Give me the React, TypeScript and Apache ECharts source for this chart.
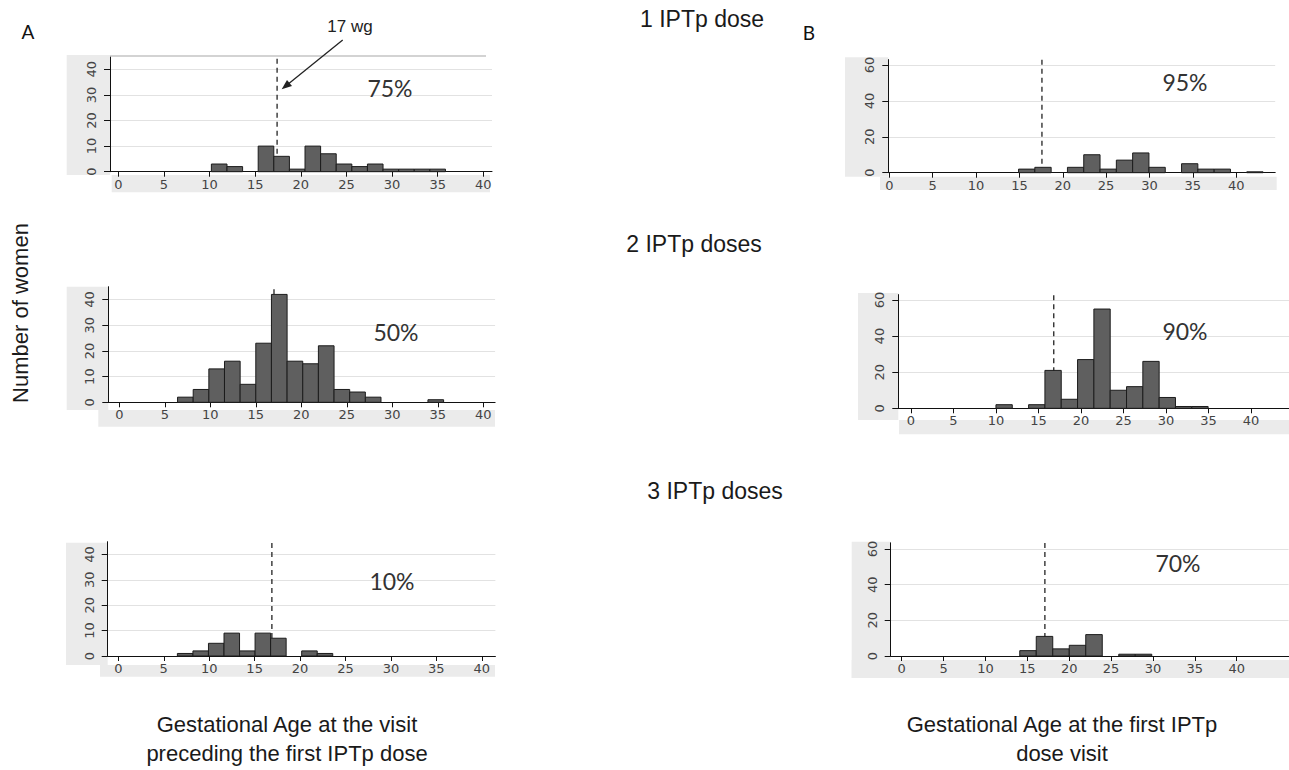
import React, { useEffect, useRef } from "react";
import * as echarts from "echarts";

// ---------- data ----------
const xTickValues = [0, 5, 10, 15, 20, 25, 30, 35, 40];
const yTicksA = [0, 10, 20, 30, 40];
const yTicksB = [0, 20, 40, 60];

// Panel A: gestational age at the visit preceding the first IPTp dose
const a1BinStart = 10.2;
const a1BinWidth = 1.71;
const a1Counts = [3, 2, 0, 10, 6, 1, 10, 7, 3, 2, 3, 1, 1, 1, 1];

const a2BinStart = 6.4;
const a2BinWidth = 1.72;
const a2Counts = [2, 5, 13, 16, 7, 23, 42, 16, 15, 22, 5, 4, 2, 0, 0, 0, 1];

const a3BinStart = 6.5;
const a3BinWidth = 1.71;
const a3Counts = [1, 2, 5, 9, 2, 9, 7, 0, 2, 1];

// Panel B: gestational age at the first IPTp dose visit
const b1BinStart = 14.9;
const b1BinWidth = 1.88;
const b1Counts = [2, 3, 0, 3, 10, 2, 7, 11, 3, 0, 5, 2, 2, 0, 0.5];

const b2BinStart = 10.0;
const b2BinWidth = 1.92;
const b2Counts = [2, 0, 2, 21, 5, 27, 55, 10, 12, 26, 6, 1, 1];

const b3BinStart = 14.1;
const b3BinWidth = 1.97;
const b3Counts = [3, 11, 4, 6, 12, 0, 1, 1];

const cutoffs = [17.4, 17.0, 16.9, 17.6, 16.8, 17.1];
const percentLabels = ["75%", "50%", "10%", "95%", "90%", "70%"];
const doseTitles = ["1 IPTp dose", "2 IPTp doses", "3 IPTp doses"];
const yAxisTitle = "Number of women";
const xTitleA = ["Gestational Age at the visit", "preceding the first IPTp dose"];
const xTitleB = ["Gestational Age at the first IPTp", "dose visit"];
const cutoffNote = "17 wg";

// ---------- layout ----------
const panels = [
  { start: a1BinStart, width: a1BinWidth, counts: a1Counts, yTicks: yTicksA, yMax: 45,
    left: 110, top: 56.5, w: 382, h: 115.2, xMin: -0.91, xMax: 40.95, px: 390, py: 88,
    bandL: [66.7, 55, 43.3, 120], bandB: [111.7, 175, 378.3, 17.3] },
  { start: a2BinStart, width: a2BinWidth, counts: a2Counts, yTicks: yTicksA, yMax: 45,
    left: 108.3, top: 286.7, w: 386.8, h: 115.6, xMin: -1.21, xMax: 41.3, px: 396, py: 332,
    bandL: [66.7, 286.7, 41.6, 123.3], bandB: [98.3, 410, 396.7, 16.7] },
  { start: a3BinStart, width: a3BinWidth, counts: a3Counts, yTicks: yTicksA, yMax: 45,
    left: 107.7, top: 541.7, w: 387.7, h: 114.3, xMin: -1.17, xMax: 41.5, px: 392, py: 581,
    bandL: [66, 542.7, 41.7, 122.3], bandB: [100, 665, 395, 11.7] },
  { start: b1BinStart, width: b1BinWidth, counts: b1Counts, yTicks: yTicksB, yMax: 63,
    left: 888.3, top: 59.6, w: 386.9, h: 113.1, xMin: -0.12, xMax: 44.5, px: 1185, py: 82,
    bandL: [845, 57.3, 43.3, 119.4], bandB: [880, 176.7, 396.7, 13.3] },
  { start: b2BinStart, width: b2BinWidth, counts: b2Counts, yTicks: yTicksB, yMax: 63,
    left: 898.3, top: 294.6, w: 390.9, h: 113.7, xMin: -1.49, xMax: 44.5, px: 1185, py: 331,
    bandL: [858, 293, 40.3, 127], bandB: [899, 420, 390, 14.3] },
  { start: b3BinStart, width: b3BinWidth, counts: b3Counts, yTicks: yTicksB, yMax: 63.5,
    left: 890.7, top: 542.8, w: 397.9, h: 113.2, xMin: -1.31, xMax: 46.2, px: 1178, py: 563,
    bandL: [851.7, 541.7, 39, 136.3], bandB: [851.7, 660, 437.3, 18] },
];

const BAND = "#ebebeb";
const TICK_FONT = "DejaVu Sans";
const TITLE_FONT = "Liberation Sans";
const PCT_FONT = "Lato";

function buildOption() {
  const grid: any[] = [];
  const xAxis: any[] = [];
  const yAxis: any[] = [];
  const series: any[] = [];
  const graphic: any[] = [];

  panels.forEach((p, i) => {
    grid.push({ left: p.left, top: p.top, width: p.w, height: p.h, outerBoundsMode: "none", containLabel: false });
    xAxis.push({
      gridIndex: i, type: "value", min: p.xMin, max: p.xMax,
      axisLine: { show: true, onZero: false, lineStyle: { color: "#111", width: 1 } },
      axisTick: { show: true, length: 5, customValues: xTickValues, lineStyle: { color: "#111" } },
      axisLabel: { customValues: xTickValues, margin: 6, fontSize: 13, fontFamily: TICK_FONT, color: "#444" },
      splitLine: { show: false },
    });
    yAxis.push({
      gridIndex: i, type: "value", min: 0, max: p.yMax,
      axisLine: { show: true, onZero: false, lineStyle: { color: "#111", width: 1 } },
      axisTick: { show: true, length: 6, customValues: p.yTicks, lineStyle: { color: "#111" } },
      axisLabel: { customValues: p.yTicks, rotate: 90, margin: 12, fontSize: 13, fontFamily: TICK_FONT, color: "#444" },
      splitLine: { show: true, lineStyle: { color: "#e2e2e2", width: 1 } },
    });
    const bins = p.counts.map((c, k) => [p.start + k * p.width, p.start + (k + 1) * p.width, c]);
    series.push({
      type: "line", xAxisIndex: i, yAxisIndex: i, z: 1, symbol: "none", silent: true,
      data: [[cutoffs[i], 0], [cutoffs[i], p.yMax]],
      lineStyle: { color: "#222", width: 1.3, type: [5, 4] },
    });
    series.push({
      type: "custom", xAxisIndex: i, yAxisIndex: i, z: 3,
      encode: { x: [0, 1], y: 2 },
      data: bins,
      renderItem: (_params: any, api: any) => {
        const x0 = api.value(0);
        const x1 = api.value(1);
        const c = api.value(2);
        if (!c) return null;
        const a = api.coord([x0, c]);
        const b = api.coord([x1, 0]);
        return {
          type: "rect",
          shape: { x: a[0], y: a[1], width: b[0] - a[0], height: b[1] - a[1] },
          style: { fill: "#5f5f5f", stroke: "#1c1c1c", lineWidth: 1 },
        };
      },
    });
    graphic.push({ type: "rect", z: -10, shape: { x: p.bandL[0], y: p.bandL[1], width: p.bandL[2], height: p.bandL[3] }, style: { fill: BAND } });
    graphic.push({ type: "rect", z: -10, shape: { x: p.bandB[0], y: p.bandB[1], width: p.bandB[2], height: p.bandB[3] }, style: { fill: BAND } });
    graphic.push({
      type: "text", x: p.px, y: p.py, z: 10,
      style: { text: percentLabels[i], fontFamily: PCT_FONT, fontSize: 23, fill: "#333", align: "center", verticalAlign: "middle" },
    });
  });

  // top border of first panel
  graphic.push({ type: "line", z: 5, shape: { x1: 110, y1: 56, x2: 486, y2: 56 }, style: { stroke: "#c4c4c4", lineWidth: 1.5 } });

  // titles
  const titlePos = [[702, 19], [694, 244], [715, 491]];
  doseTitles.forEach((t, k) => {
    graphic.push({ type: "text", x: titlePos[k][0], y: titlePos[k][1], z: 10,
      style: { text: t, fontFamily: TITLE_FONT, fontSize: 23, fill: "#1a1a1a", align: "center", verticalAlign: "middle" } });
  });
  graphic.push({ type: "text", x: 28, y: 31, style: { text: "A", fontFamily: PCT_FONT, fontSize: 19, fill: "#111", align: "center", verticalAlign: "middle" } });
  graphic.push({ type: "text", x: 809, y: 32, style: { text: "B", fontFamily: PCT_FONT, fontSize: 19, fill: "#111", align: "center", verticalAlign: "middle" } });
  graphic.push({ type: "text", x: 350, y: 26, style: { text: cutoffNote, fontFamily: TITLE_FONT, fontSize: 17, fill: "#222", align: "center", verticalAlign: "middle" } });
  graphic.push({ type: "line", z: 10, shape: { x1: 342.7, y1: 40, x2: 287, y2: 85 }, style: { stroke: "#222", lineWidth: 1.3 } });
  graphic.push({ type: "polygon", z: 10, shape: { points: [[281.7, 89.3], [292.0, 86.1], [287.0, 79.9]] }, style: { fill: "#222" } });

  graphic.push({ type: "text", x: 20, y: 313, rotation: Math.PI / 2,
    style: { text: yAxisTitle, fontFamily: TITLE_FONT, fontSize: 22, fill: "#1a1a1a", align: "center", verticalAlign: "middle" } });

  xTitleA.forEach((t, k) => {
    graphic.push({ type: "text", x: 287, y: 724 + k * 29, style: { text: t, fontFamily: TITLE_FONT, fontSize: 22, fill: "#1a1a1a", align: "center", verticalAlign: "middle" } });
  });
  xTitleB.forEach((t, k) => {
    graphic.push({ type: "text", x: 1062, y: 724 + k * 29, style: { text: t, fontFamily: TITLE_FONT, fontSize: 22, fill: "#1a1a1a", align: "center", verticalAlign: "middle" } });
  });

  return { animation: false, backgroundColor: "#ffffff", grid, xAxis, yAxis, series, graphic };
}

export default function App() {
  const ref = useRef<HTMLDivElement>(null);
  useEffect(() => {
    if (!ref.current) return;
    const chart = echarts.init(ref.current, undefined, { renderer: "svg" });
    chart.setOption(buildOption() as any);
    return () => chart.dispose();
  }, []);
  return <div ref={ref} style={{ position: "fixed", left: 0, top: 0, width: 1289, height: 770 }} />;
}
